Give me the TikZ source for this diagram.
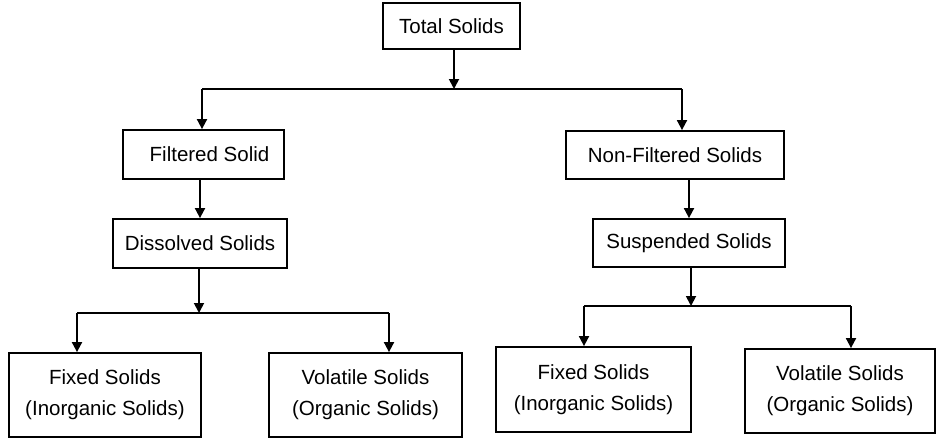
\documentclass[tikz,border=0pt]{standalone}
\usepackage{fontspec}
\setmainfont{Liberation Sans}
\usetikzlibrary{arrows.meta}

\tikzset{
  box/.style={draw, line width=1.8pt, inner sep=0pt, align=center,
    font=\fontsize{20.5}{31}\selectfont},
  arr/.style={line width=1.8pt, -{Triangle[length=10pt,width=10pt]}},
  bar/.style={line width=1.8pt}
}

\begin{document}
\begin{tikzpicture}[x=1pt,y=-1pt]
\useasboundingbox (0,0) rectangle (936,439);
% boxes
\node[box, minimum width=137pt, minimum height=46pt] (total) at (451.5,26) {Total Solids};
\node[box, minimum width=161pt, minimum height=49pt] (filt) at (203.5,154.5) {\hspace{12pt}Filtered Solid};
\node[box, minimum width=218pt, minimum height=48pt] (nonf) at (675,155) {Non-Filtered Solids};
\node[box, minimum width=174pt, minimum height=49pt] (diss) at (200,243.5) {Dissolved Solids};
\node[box, minimum width=192pt, minimum height=48pt] (susp) at (689,243) {Suspended Solids};
\node[box, minimum width=192pt, minimum height=84pt] (fixl) at (105,395) {Fixed Solids\\(Inorganic Solids)};
\node[box, minimum width=193pt, minimum height=84pt] (voll) at (365.5,395) {Volatile Solids\\(Organic Solids)};
\node[box, minimum width=195pt, minimum height=85pt] (fixr) at (593.5,389.5) {Fixed Solids\\(Inorganic Solids)};
\node[box, minimum width=190pt, minimum height=84pt] (volr) at (840,391) {Volatile Solids\\(Organic Solids)};
% junctions
\coordinate (j1) at (454,89);
\coordinate (j1l) at (202,89);
\coordinate (j1r) at (682,89);
\coordinate (j2) at (199,313);
\coordinate (j2l) at (77,313);
\coordinate (j2r) at (389,313);
\coordinate (j3) at (691,306);
\coordinate (j3l) at (584,306);
\coordinate (j3r) at (851,306);
% connectors
\draw[arr] (total.south -| j1) -- (j1);
\draw[bar] (j1l) -- (j1r);
\draw[arr] (j1l) -- (j1l |- filt.north);
\draw[arr] (j1r) -- (j1r |- nonf.north);
\draw[arr] (filt.south -| diss.north) -- (diss.north);
\draw[arr] (nonf.south -| susp.north) -- (susp.north);
\draw[arr] (diss.south -| j2) -- (j2);
\draw[bar] (j2l) -- (j2r);
\draw[arr] (j2l) -- (j2l |- fixl.north);
\draw[arr] (j2r) -- (j2r |- voll.north);
\draw[arr] (susp.south -| j3) -- (j3);
\draw[bar] (j3l) -- (j3r);
\draw[arr] (j3l) -- (j3l |- fixr.north);
\draw[arr] (j3r) -- (j3r |- volr.north);
\end{tikzpicture}
\end{document}
